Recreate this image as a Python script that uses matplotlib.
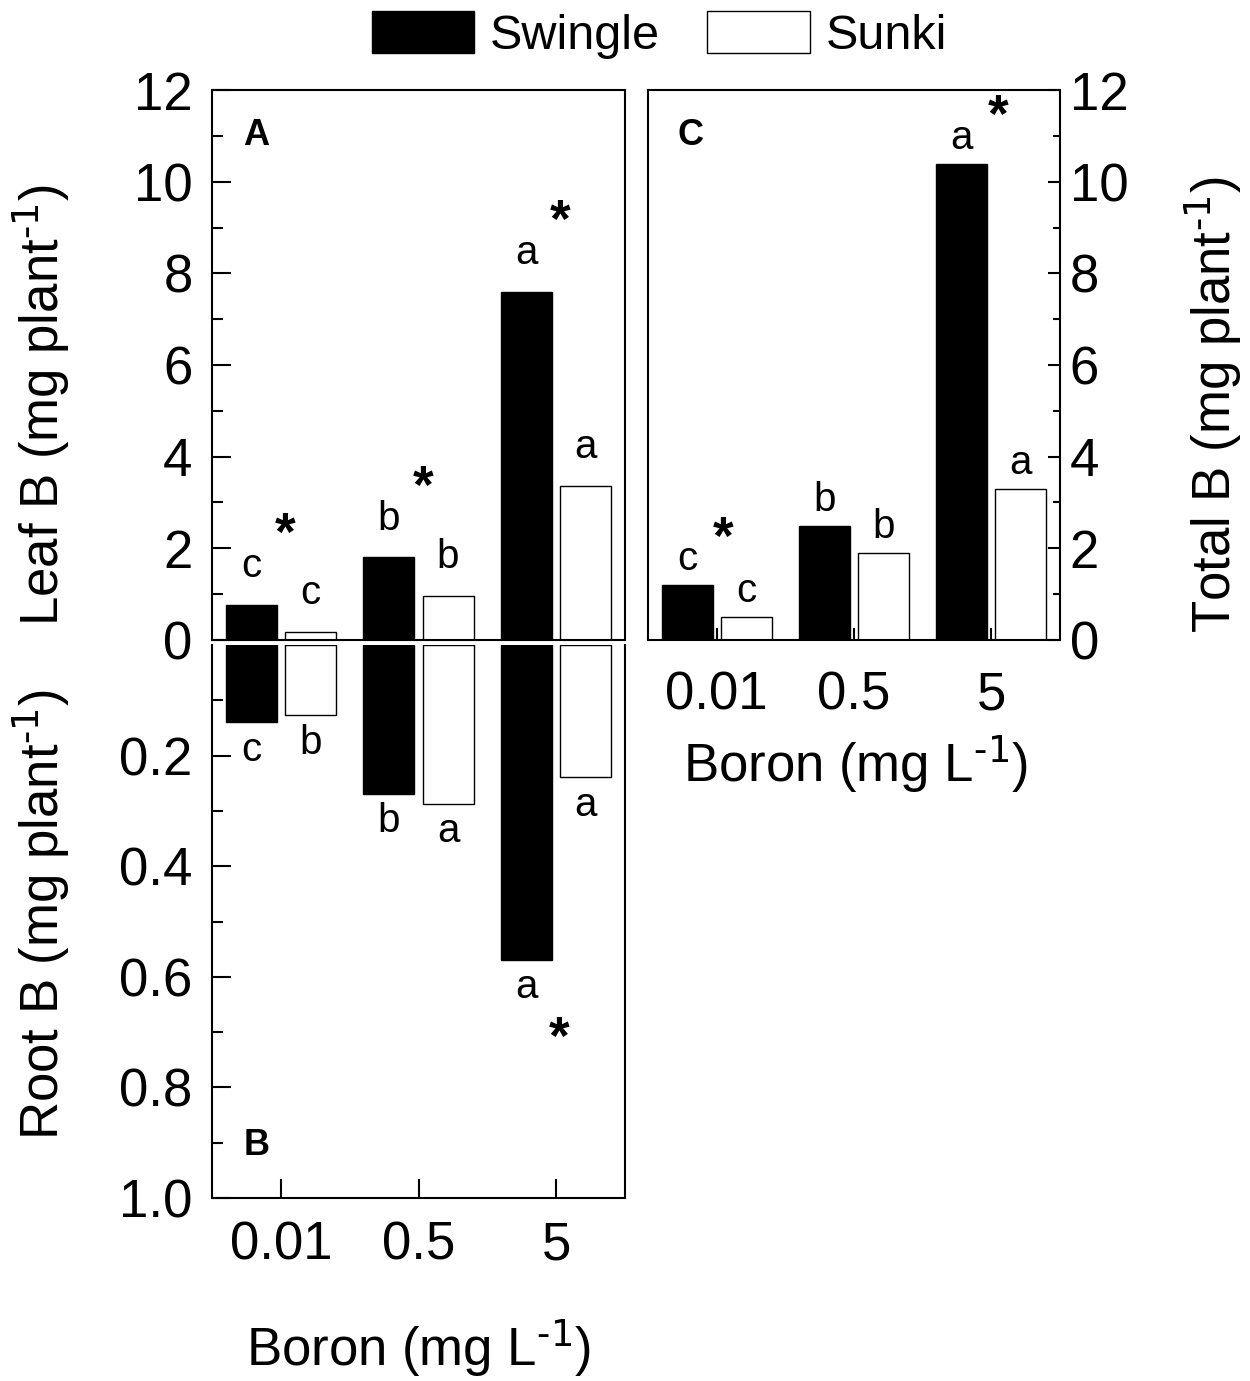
import matplotlib
matplotlib.use("Agg")
import matplotlib.pyplot as plt
import numpy as np

plt.rcParams['font.family'] = ['Liberation Sans', 'DejaVu Sans']
plt.rcParams['mathtext.default'] = 'regular'

# boron doses (mg/L)
doses = ['0.01', '0.5', '5']

# leaf B (mg/plant)
leaf_swingle = [0.77, 1.80, 7.60]
leaf_sunki = [0.17, 0.95, 3.37]
leaf_let_swingle = ['c', 'b', 'a']
leaf_let_sunki = ['c', 'b', 'a']
leaf_sig = [True, True, True]

# root B (mg/plant)
root_swingle = [0.139, 0.269, 0.569]
root_sunki = [0.127, 0.287, 0.239]
root_let_swingle = ['c', 'b', 'a']
root_let_sunki = ['b', 'a', 'a']
root_sig = [False, False, True]

# total B (mg/plant)
total_swingle = [1.19, 2.49, 10.39]
total_sunki = [0.50, 1.89, 3.30]
total_let_swingle = ['c', 'b', 'a']
total_let_sunki = ['c', 'b', 'a']
total_sig = [True, False, True]

W, H = 1250, 1381
fig = plt.figure(figsize=(W / 100, H / 100), dpi=100)


def rect(l, t, r, b):
    return [l / W, 1 - b / H, (r - l) / W, (b - t) / H]


axA = fig.add_axes(rect(212, 90, 625, 640))
axB = fig.add_axes(rect(212, 645, 625, 1198))
axC = fig.add_axes(rect(648, 90, 1060, 640))

x = np.arange(len(doses))
bw = 0.37
off = 0.215
unit = r'(mg plant$^{\text{-1}}$)'
xlab = r'Boron (mg L$^{\text{-1}}$)'


def draw(ax, sw, su):
    b1 = ax.bar(x - off, sw, bw, color='black', edgecolor='black', linewidth=1.0)
    b2 = ax.bar(x + off, su, bw, color='white', edgecolor='black', linewidth=1.0)
    ax.set_xlim(-0.5, 2.5)
    for s in ax.spines.values():
        s.set_linewidth(1.5)
    return b1, b2


def letters(ax, sw, su, lsw, lsu, sig, d, star_d, star_dx):
    for i in range(3):
        ax.text(x[i] - off, sw[i] + d, lsw[i], ha='center', va='center', fontsize=29)
        ax.text(x[i] + off, su[i] + d, lsu[i], ha='center', va='center', fontsize=29)
        if sig[i]:
            ax.text(x[i] + star_dx, max(sw[i], su[i]) + star_d, '*', ha='center', va='center',
                    fontsize=38, fontweight='bold')


# --- A: leaf
bA1, bA2 = draw(axA, leaf_swingle, leaf_sunki)
axA.set_ylim(0, 12)
axA.set_yticks(np.arange(0, 13, 2))
axA.set_yticks(np.arange(1, 12, 2), minor=True)
axA.tick_params(axis='y', which='major', direction='in', length=14, width=1.5, labelsize=38, pad=14)
axA.tick_params(axis='y', which='minor', direction='in', length=8, width=1.5)
axA.tick_params(axis='x', bottom=False, labelbottom=False)
letters(axA, leaf_swingle, leaf_sunki, leaf_let_swingle, leaf_let_sunki, leaf_sig, 0.85, 1.5, 0.03)
axA.text(0.107, 0.918, 'A', transform=axA.transAxes, ha='center', va='center', fontsize=26, fontweight='bold')

# --- B: root (downward)
draw(axB, root_swingle, root_sunki)
axB.set_ylim(1.0, 0)
axB.spines['top'].set_visible(False)
axB.set_yticks([0.2, 0.4, 0.6, 0.8, 1.0])
axB.set_yticklabels(['0.2', '0.4', '0.6', '0.8', '1.0'])
axB.set_yticks(np.arange(0.1, 1.0, 0.2), minor=True)
axB.tick_params(axis='y', which='major', direction='in', length=14, width=1.5, labelsize=38, pad=14)
axB.tick_params(axis='y', which='minor', direction='in', length=8, width=1.5)
axB.set_xticks(x)
axB.set_xticklabels(doses)
axB.tick_params(axis='x', direction='in', length=14, width=1.5, labelsize=38, pad=16)
axB.set_xlabel(xlab, fontsize=38)
axB.xaxis.set_label_coords(0.501, -0.215)
letters(axB, root_swingle, root_sunki, root_let_swingle, root_let_sunki, root_sig, 0.05, 0.145, 0.02)
axB.text(0.107, 0.095, 'B', transform=axB.transAxes, ha='center', va='center', fontsize=26, fontweight='bold')

# --- C: total
draw(axC, total_swingle, total_sunki)
axC.set_ylim(0, 12)
axC.yaxis.tick_right()
axC.set_yticks(np.arange(0, 13, 2))
axC.set_yticks(np.arange(1, 12, 2), minor=True)
axC.tick_params(axis='y', which='major', direction='in', length=9, width=1.5, labelsize=38, pad=7,
                left=False, right=True)
axC.tick_params(axis='y', which='minor', direction='in', length=5, width=1.5, left=False, right=True)
axC.set_xticks(x)
axC.set_xticklabels(doses)
axC.tick_params(axis='x', direction='in', length=9, width=1.5, labelsize=38, pad=22)
axC.set_xlabel(xlab, fontsize=38)
axC.xaxis.set_label_coords(0.505, -0.17)
letters(axC, total_swingle, total_sunki, total_let_swingle, total_let_sunki, total_sig, 0.57, 1.0, 0.05)
axC.text(0.104, 0.918, 'C', transform=axC.transAxes, ha='center', va='center', fontsize=26, fontweight='bold')

# y labels
fig.text(0.033, 1 - 405 / H, 'Leaf B ' + unit, rotation=90, ha='center', va='center', fontsize=38)
fig.text(0.033, 1 - 915 / H, 'Root B ' + unit, rotation=90, ha='center', va='center', fontsize=38)
fig.text(0.9704, 1 - 405 / H, 'Total B ' + unit, rotation=90, ha='center', va='center', fontsize=38)

fig.legend([bA1, bA2], ['Swingle', 'Sunki'], loc='center', bbox_to_anchor=(0.5276, 1 - 35 / H), ncol=2,
           frameon=False, fontsize=35, handlelength=2.1, handleheight=0.95, handletextpad=0.33,
           columnspacing=0.97)

fig.savefig('out.png', dpi=100)
